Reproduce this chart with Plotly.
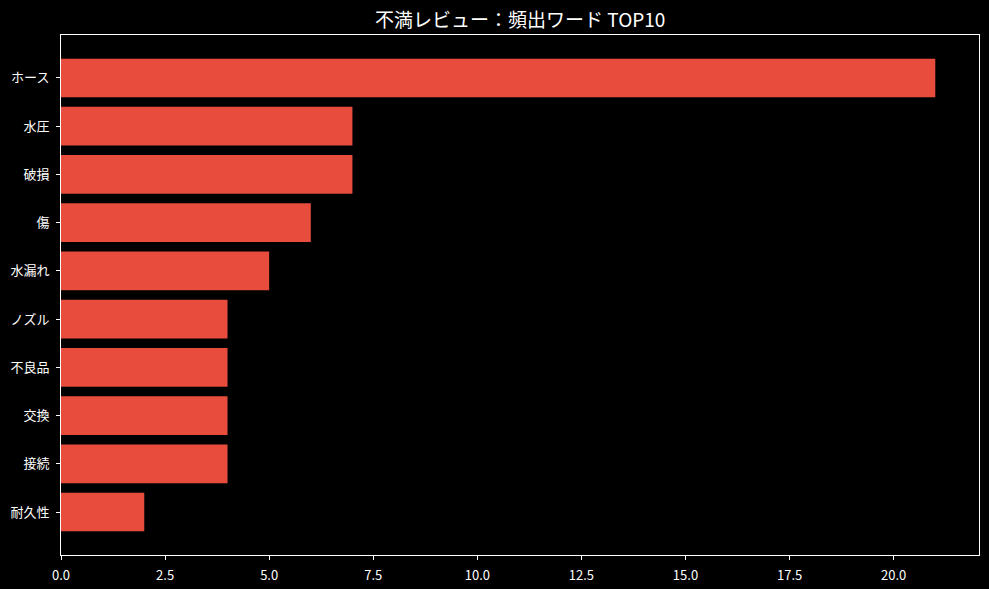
import plotly.graph_objects as go

# 頻出ワードと件数 (上から順)
words = ['ホース', '水圧', '破損', '傷', '水漏れ', 'ノズル', '不良品', '交換', '接続', '耐久性']
counts = [21, 7, 7, 6, 5, 4, 4, 4, 4, 2]

fig = go.Figure()
fig.add_trace(go.Bar(
    x=counts,
    y=words,
    orientation='h',
    marker=dict(color='#e74c3c', line=dict(width=0)),
    width=0.8,
))

axis_common = dict(
    showgrid=False,
    zeroline=False,
    showline=True,
    linecolor='white',
    linewidth=1,
    mirror=True,
    ticks='outside',
    ticklen=4,
    tickcolor='white',
    ticklabelstandoff=4,
    automargin=False,
    tickfont=dict(color='white', size=13),
)

fig.update_layout(
    width=989,
    height=589,
    paper_bgcolor='black',
    plot_bgcolor='black',
    font=dict(family='Noto Sans CJK JP', color='white'),
    title=dict(text='不満レビュー：頻出ワード TOP10', x=0.526, xanchor='center',
               y=0.965, yanchor='middle', font=dict(size=19, color='white')),
    margin=dict(l=61, r=10, t=35, b=34),
    showlegend=False,
    xaxis=dict(range=[0, 22.05], dtick=2.5, tickformat='.1f', **axis_common),
    yaxis=dict(type='category', categoryorder='array', categoryarray=words,
               range=[9.89, -0.89], **axis_common),
)

# ページ余白をなくす
fig.write_html("out.html", config={'displayModeBar': False},
               post_script="document.body.style.margin='0';document.body.style.background='black';")
